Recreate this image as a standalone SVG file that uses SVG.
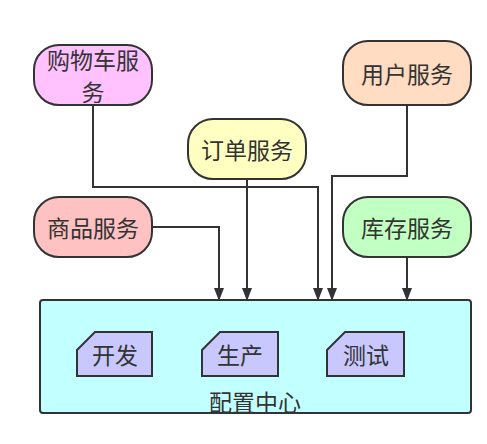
<svg xmlns="http://www.w3.org/2000/svg" width="487" height="444" viewBox="0 0 487 444">
<defs>
<style>
.n{stroke:#333;stroke-width:2}
.t{font-family:"Noto Sans CJK SC","Noto Sans",sans-serif;font-size:23px;fill:#333;text-anchor:middle;dominant-baseline:central}
.e{fill:none;stroke:#333;stroke-width:2}
</style>
<marker id="a" viewBox="0 0 13 10" refX="13" refY="5" markerWidth="13" markerHeight="10" markerUnits="userSpaceOnUse" orient="auto">
<path d="M0,0 L13,5 L0,10 z" fill="#333"/>
</marker>
</defs>
<rect width="487" height="444" fill="#fff"/>
<g id="config">
<rect class="n" x="40" y="300" width="431" height="113" rx="3" fill="#c2ffff"/>
<text class="t" x="255" y="401">配置中心</text>
</g>
<g id="dev">
<path class="n" d="M77,350 L95,332 L152,332 L152,376 L77,376 Z" fill="#c8c8ff"/>
<text class="t" x="115" y="354">开发</text>
</g>
<g id="prod">
<path class="n" d="M202,350 L220,332 L278,332 L278,376 L202,376 Z" fill="#c8c8ff"/>
<text class="t" x="240" y="354">生产</text>
</g>
<g id="test">
<path class="n" d="M327,350 L345,332 L404,332 L404,376 L327,376 Z" fill="#c8c8ff"/>
<text class="t" x="366" y="354">测试</text>
</g>
<g id="cart">
<rect class="n" x="34" y="45" width="118" height="60" rx="25" fill="#ffc2ff"/>
<text class="t" x="93" y="59">购物车服</text>
<text class="t" x="93" y="91">务</text>
</g>
<g id="user">
<rect class="n" x="343" y="41" width="128" height="64" rx="25" fill="#ffdcc2"/>
<text class="t" x="407" y="73">用户服务</text>
</g>
<g id="order">
<rect class="n" x="188" y="119" width="118" height="60" rx="25" fill="#ffffc2"/>
<text class="t" x="247" y="149">订单服务</text>
</g>
<g id="product">
<rect class="n" x="34" y="197" width="118" height="60" rx="25" fill="#ffc2c2"/>
<text class="t" x="93" y="227">商品服务</text>
</g>
<g id="stock">
<rect class="n" x="343" y="197" width="128" height="60" rx="25" fill="#c2ffc2"/>
<text class="t" x="407" y="227">库存服务</text>
</g>
<g id="edges">
<path class="e" d="M93,105 V187 H318 V301" marker-end="url(#a)"/>
<path class="e" d="M247,179 V301" marker-end="url(#a)"/>
<path class="e" d="M407,105 V176 H332 V301" marker-end="url(#a)"/>
<path class="e" d="M152,227 H219 V301" marker-end="url(#a)"/>
<path class="e" d="M407,257 V301" marker-end="url(#a)"/>
</g>
</svg>
